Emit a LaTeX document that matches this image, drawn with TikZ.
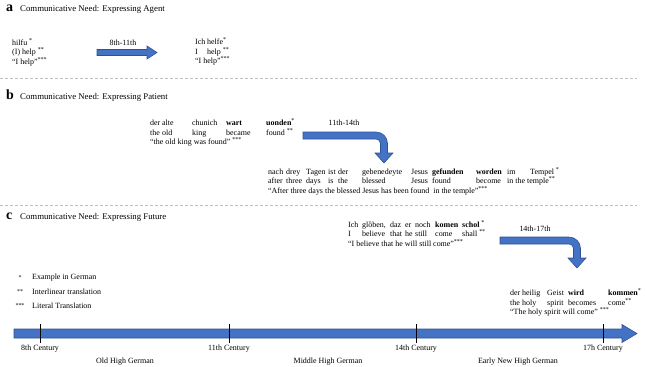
\documentclass[tikz,border=0pt]{standalone}
\usepackage{fontspec}
\setmainfont{Liberation Serif}
\usepackage{array}
\usetikzlibrary{positioning}
\definecolor{arrowblue}{RGB}{68,114,196}
\definecolor{arrowedge}{RGB}{47,82,143}
\definecolor{dashgray}{RGB}{191,191,191}
\setlength\tabcolsep{0pt}
\newcommand\sups[1]{\textsuperscript{#1}}

\begin{document}
\begin{tikzpicture}[x=1bp,y=1bp,every node/.style={font=\fontsize{8}{9.5}\selectfont,inner sep=0pt},
 panel/.style={anchor=base west,font=\fontsize{14}{14}\selectfont\bfseries},
 heading/.style={anchor=base west,font=\fontsize{8.8}{10}\selectfont},
 gloss/.style={anchor=base west},
 starmark/.style={font=\fontsize{6}{6}\selectfont},
 legendtext/.style={anchor=west},
 era/.style={anchor=base},
 blockarrow/.style={fill=arrowblue,draw=arrowedge,line width=.6bp},
 divider/.style={draw=dashgray,dash pattern=on 3bp off 2bp,line width=.6bp}]
\useasboundingbox (0,0) rectangle (645,-366);
\foreach \y/\p/\t in {-11/a/Agent,-99/b/Patient,-219/c/Future}
 {\node[panel] (panel\p) at (6,\y) {\p};
  \node[heading] (head\p) at (20,\y) {Communicative Need: Expressing \t};}
\draw[divider] (0,-78) -- (637,-78);
\draw[divider] (0,-205) -- (637,-205);
\node[gloss] (agentold) at (12,-45) {\begin{tabular}[t]{@{}l@{}}
 hilfu \sups{*}\\(I) help \sups{**}\\“I help”\sups{***}\end{tabular}};
\node[gloss] (agentnew) at (195,-44.5) {\begin{tabular}[t]{@{}p{12bp}l@{}}
 Ich & helfe\sups{*}\\ I & help \sups{**}\\ \multicolumn{2}{@{}l@{}}{“I help”\sups{***}}\end{tabular}};
\node[gloss] (patientold) at (150,-125.5) {\begin{tabular}[t]{@{}p{12bp}p{30bp}p{34bp}p{40bp}l@{}}
 der & alte & chunich & \textbf{wart} & \textbf{uonden}\sups{*}\\
 the & old & king & became & found \sups{**}\\
 \multicolumn{5}{@{}l@{}}{“the old king was found” \sups{***}}\end{tabular}};
\node[gloss] (patientnew) at (268,-174) {\begin{tabular}[t]{@{}p{18bp}p{20bp}p{22bp}p{10bp}p{24bp}p{49bp}p{21bp}p{44bp}p{31bp}l@{}}
 nach & drey & Tagen & ist & der & gebenedeyte & Jesus & \textbf{gefunden} & \textbf{worden} & \makebox[23bp][l]{im}Tempel \sups{*}\\
 after & three & days & is & the & blessed & Jesus & found & become & in the temple\sups{**}\\
 \multicolumn{10}{@{}l@{}}{“After three days the blessed Jesus has been found\ \ in the temple”\sups{***}}\end{tabular}};
\node[gloss] (futureold) at (348,-227) {\begin{tabular}[t]{@{}p{14bp}p{28bp}p{15bp}p{10bp}p{20bp}p{27bp}l@{}}
 Ich & glȍben, & daz & er & noch & \textbf{komen} & \textbf{schol} \sups{*}\\
 I & believe & that & he & still & come & shall \sups{**}\\
 \multicolumn{7}{@{}l@{}}{“I believe that he will still come”\sups{***}}\end{tabular}};
\node[gloss] (futurenew) at (510,-295.5) {\begin{tabular}[t]{@{}p{12bp}p{25bp}p{21bp}p{40bp}l@{}}
 der & heilig & Geist & \textbf{wird} & \textbf{kommen}\sups{*}\\
 the & holy & spirit & becomes & come\sups{**}\\
 \multicolumn{5}{@{}l@{}}{“The holy spirit will come” \sups{***}}\end{tabular}};
\path[blockarrow] (97,-49.5) -- (147,-49.5) -- (147,-46) -- (157,-52.5) -- (147,-59) -- (147,-55.5) -- (97,-55.5) -- cycle;
\foreach \x/\y/\l in {303/-135.5/73,500/-240.5/69}
 \path[blockarrow] (\x,\y+3.5) -- ++(\l,0) arc[start angle=90,end angle=0,radius=11.5] -- ++(0,-9.5)
  -- ++(5.5,0) -- ++(-9,-10) -- ++(-9,10) -- ++(5.5,0) -- ++(0,9.5)
  arc[start angle=0,end angle=90,radius=4.5] -- (\x,\y-3.5) -- cycle;
\node (spanagent) at (123,-43) {8th-11th};
\node (spanpatient) at (344,-123) {11th-14th};
\node (spanfuture) at (535,-229) {14th-17th};
\foreach \y/\s/\t/\n in {-278/*/Example in German/german,-292/**/Interlinear translation/interlinear,-306/***/Literal Translation/literal}
 {\node[starmark] (s\n) at (20,\y) {\s};
  \node[legendtext] (\n) at (32,\y) {\t};}
\path[blockarrow] (14,-329) -- (622,-329) -- (622,-324.5) -- (637,-333.5) -- (622,-342.5) -- (622,-338) -- (14,-338) -- cycle;
\foreach \x/\c/\n in {40/8th/c8,229/11th/c11,416/14th/c14,603/17h/c17}
 {\draw[line width=.8bp] (\x,-324) -- (\x,-343);
  \node[anchor=north] (\n) at (\x,-345) {\c\ Century};}
\foreach \x/\t/\n in {125/Old High German/ohg,328/Middle High German/mhg,518/Early New High German/enhg}
 \node[era] (\n) at (\x,-363) {\t};
\end{tikzpicture}
\end{document}
